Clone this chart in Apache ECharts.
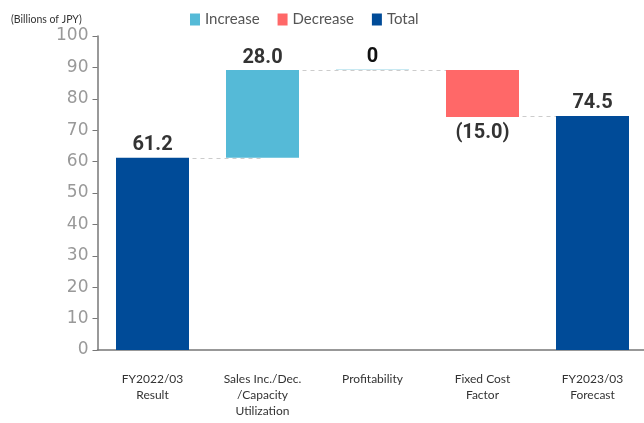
<!DOCTYPE html>
<html>
<head>
<meta charset="utf-8">
<script src="https://cdn.jsdelivr.net/npm/echarts@6/dist/echarts.min.js"></script>
<style>
  html, body { margin: 0; padding: 0; background: #fff; overflow: hidden; }
  #main { width: 652px; height: 423px; }
</style>
</head>
<body>
<div id="main"></div>
<script>
// data
var categories = ['FY2022/03\nResult', 'Sales Inc./Dec.\n/Capacity\nUtilization', 'Profitability', 'Fixed Cost\nFactor', 'FY2023/03\nForecast'];
var increaseVals = ['-', 28.0, 0, '-', '-'];
var decreaseVals = ['-', '-', '-', 15.0, '-'];
var totalVals = [61.2, '-', '-', '-', 74.5];
var yTicks = [0, 10, 20, 30, 40, 50, 60, 70, 80, 90, 100];

// invisible base under the floating bars (running total)
var baseVals = [];
var running = 0;
for (var i = 0; i < categories.length; i++) {
  if (totalVals[i] !== '-') { baseVals.push(0); running = totalVals[i]; }
  else if (increaseVals[i] !== '-') { baseVals.push(running); running += increaseVals[i]; }
  else { running -= decreaseVals[i]; baseVals.push(running); }
}
var tops = [61.2, 89.2, 89.2, 74.5];

var connectors = [];
for (var k = 0; k < tops.length; k++) {
  connectors.push([{ coord: [k, tops[k]] }, { coord: [k + 1, tops[k]] }]);
}

var labelFont = { fontFamily: 'Roboto', fontWeight: 'bold', fontSize: 20, color: '#333' };

var myChart = echarts.init(document.getElementById('main'));
var option = {
  animation: false,
  title: {
    text: '(Billions of JPY)',
    left: 6, top: 9,
    textStyle: { fontSize: 10.5, fontWeight: 'normal', color: '#333', fontFamily: 'Lato' }
  },
  legend: {
    data: ['Increase', 'Decrease', 'Total'],
    left: 185, top: 7,
    icon: 'rect', itemWidth: 10, itemHeight: 12, itemGap: 18,
    textStyle: { fontSize: 15, color: '#555', fontFamily: 'Lato' }
  },
  grid: { left: 97.5, top: 36, width: 550, bottom: 73 },
  xAxis: {
    type: 'category',
    data: categories,
    axisLine: { lineStyle: { color: '#777', width: 1.5 } },
    axisTick: { show: false },
    axisLabel: { color: '#333', fontSize: 12, lineHeight: 16, margin: 21, fontFamily: 'Lato', interval: 0 }
  },
  yAxis: {
    type: 'value',
    min: yTicks[0], max: yTicks[yTicks.length - 1], interval: 10,
    axisLine: { show: true, lineStyle: { color: '#777', width: 1.5 } },
    axisTick: { show: true, length: 5, lineStyle: { color: '#777' } },
    splitLine: { show: false },
    axisLabel: { color: '#999', fontSize: 17, margin: 9, fontFamily: 'DejaVu Sans' }
  },
  series: [
    {
      name: 'base', type: 'bar', stack: 'w', barWidth: 73, z: 1,
      itemStyle: { color: 'transparent' },
      data: baseVals,
      markLine: {
        z: 0, symbol: 'none', silent: true,
        label: { show: false },
        lineStyle: { color: '#ccc', type: [4, 4], width: 1 },
        data: connectors
      }
    },
    {
      name: 'Increase', type: 'bar', stack: 'w', z: 3, barMinHeight: 1,
      itemStyle: { color: '#55BAD7' },
      data: increaseVals.map(function (v) {
        return v === 0 ? { value: 0, itemStyle: { color: '#C8E9F2' }, label: { color: '#111' } } : v;
      }),
      label: Object.assign({ show: true, position: 'top', distance: 2,
        formatter: function (p) { return p.value === 0 ? '0' : p.value.toFixed(1); } }, labelFont)
    },
    {
      name: 'Decrease', type: 'bar', stack: 'w', z: 3,
      itemStyle: { color: '#FF6868' },
      data: decreaseVals,
      label: Object.assign({ show: true, position: 'bottom', distance: 6,
        formatter: function (p) { return '(' + p.value.toFixed(1) + ')'; } }, labelFont)
    },
    {
      name: 'Total', type: 'bar', stack: 'w', z: 3,
      itemStyle: { color: '#004B98' },
      data: totalVals,
      label: Object.assign({ show: true, position: 'top', distance: 3,
        formatter: function (p) { return p.value.toFixed(1); } }, labelFont)
    }
  ]
};
myChart.setOption(option, true);
</script>
</body>
</html>
